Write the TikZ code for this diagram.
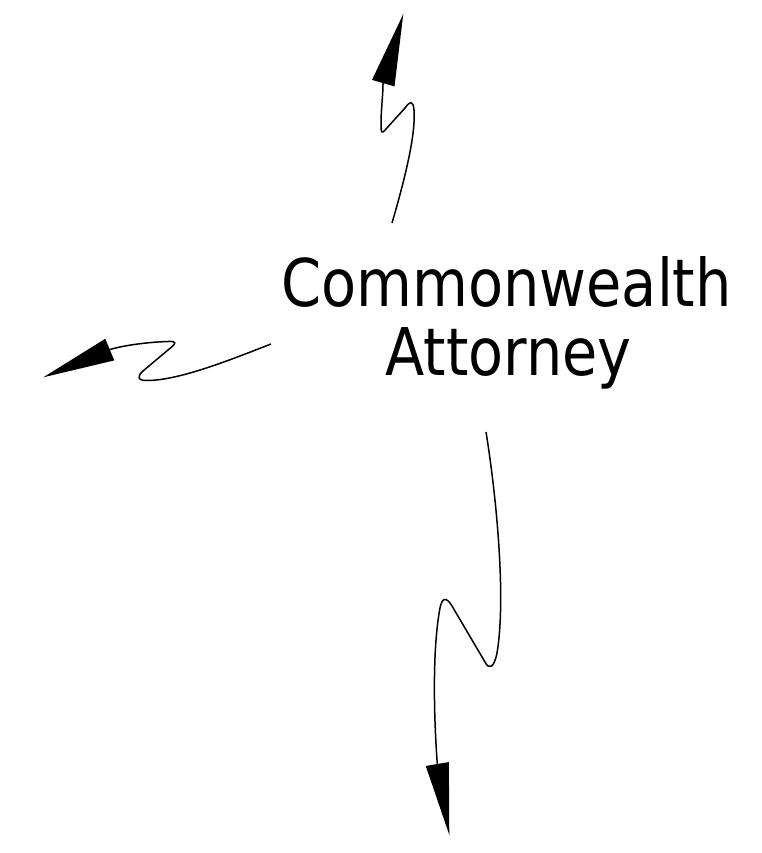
\documentclass[tikz,border=0pt]{standalone}
\usepackage{fontspec}
\setmainfont{DejaVu Sans}
\usetikzlibrary{arrows.meta}
\begin{document}
\begin{tikzpicture}[x=1pt,y=-1pt,
  bolt/.style={line width=1.5pt,-{Triangle[length=72pt,width=23pt]}},
  lbl/.style={anchor=base,inner sep=0pt,font=\fontsize{65.8}{79}\selectfont}]
\useasboundingbox (0,0) rectangle (762,853);
\node[lbl] (t1) at (506.5,306.7) {\scalebox{0.872}[1]{Commonwealth}};
\node[lbl] (t2) at (508.5,375) {\scalebox{0.87}[1]{Attorney}};
% top arrow
\coordinate (us) at (392,223);
\coordinate (ub) at (383,84);
\coordinate (ut) at (403.3,14);
\draw[bolt] (us) .. controls (404,182) and (416,135) .. (414,110)
  .. controls (413,100) and (410,101) .. (405,108)
  -- (386,129)
  .. controls (381,135) and (381,132) .. (381,124)
  .. controls (381,110) and (383,95) .. (ub) -- (ut);
% left arrow
\coordinate (ls) at (271,344);
\coordinate (lb) at (110,349.5);
\coordinate (lt) at (43.3,377.3);
\draw[bolt] (ls) .. controls (230,360) and (180,380) .. (148,380.5)
  .. controls (137,381) and (137,376) .. (143,371)
  -- (168,350)
  .. controls (177,343) and (177,341) .. (168,341.5)
  .. controls (150,342) and (125,345) .. (lb) -- (lt);
% bottom arrow
\coordinate (ds) at (486,432);
\coordinate (db) at (437.3,764);
\coordinate (dt) at (449.3,835);
\draw[bolt] (ds) .. controls (497,500) and (506,600) .. (497,653)
  .. controls (494,668) and (489,670) .. (485,662)
  -- (452,606)
  .. controls (446,596) and (442,598) .. (440,608)
  .. controls (432,650) and (434,720) .. (db) -- (dt);
\end{tikzpicture}
\end{document}
